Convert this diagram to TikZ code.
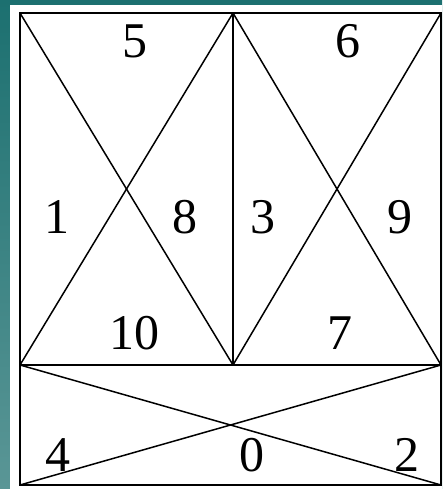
\documentclass[tikz,border=0pt]{standalone}
\usepackage{fontspec}
\setmainfont{Liberation Serif}
\begin{document}
\begin{tikzpicture}[x=1pt,y=-1pt,
  grid/.style={draw=black,line width=1.8pt},
  diag/.style={draw=black,line width=1.5pt},
  lbl/.style={font=\fontsize{50}{50}\selectfont,inner sep=0pt,text=black}]
\definecolor{tealdark}{RGB}{28,112,112}
\definecolor{teallight}{RGB}{90,150,150}
\useasboundingbox (0,0) rectangle (442,489);
\shade[top color=tealdark,bottom color=teallight] (0,0) rectangle (442,489);
\fill[white] (10,5) rectangle (442,489);
% corners
\coordinate (TL) at (20,13);
\coordinate (TM) at (233,13);
\coordinate (TR) at (441,13);
\coordinate (ML) at (20,365);
\coordinate (MM) at (233,365);
\coordinate (MR) at (441,365);
\coordinate (BL) at (20,485);
\coordinate (BR) at (441,485);
% frame
\draw[grid] (TL) -- (TR) -- (BR) -- (BL) -- cycle;
\draw[grid] (TM) -- (MM);
\draw[grid] (ML) -- (MR);
% diagonals
\draw[diag] (TL) -- (MM);
\draw[diag] (ML) -- (TM);
\draw[diag] (TM) -- (MR);
\draw[diag] (MM) -- (TR);
\draw[diag] (ML) -- (BR);
\draw[diag] (BL) -- (MR);
% labels
\node[lbl] (n5) at (135,41) {5};
\node[lbl] (n6) at (348,41) {6};
\node[lbl] (n1) at (57,217) {1};
\node[lbl] (n8) at (185,217) {8};
\node[lbl] (n3) at (263,217) {3};
\node[lbl] (n9) at (400,217) {9};
\node[lbl] (n10) at (134,333) {10};
\node[lbl] (n7) at (340,333) {7};
\node[lbl] (n4) at (58,455) {4};
\node[lbl] (n0) at (252,455) {0};
\node[lbl] (n2) at (407,455) {2};
\end{tikzpicture}
\end{document}
